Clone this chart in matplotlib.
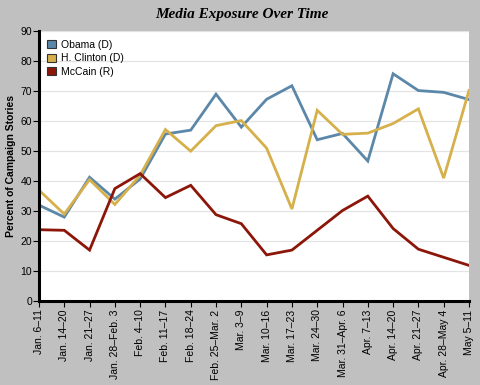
import matplotlib
matplotlib.use("Agg")
import matplotlib.pyplot as plt

weeks = ["Jan. 6\u201311", "Jan. 14\u201320", "Jan. 21\u201327", "Jan. 28\u2013Feb. 3",
         "Feb. 4\u201310", "Feb. 11\u201317", "Feb. 18\u201324", "Feb. 25\u2013Mar. 2",
         "Mar. 3\u20139", "Mar. 10\u201316", "Mar. 17\u201323", "Mar. 24\u201330",
         "Mar. 31\u2013Apr. 6", "Apr. 7\u201313", "Apr. 14\u201320", "Apr. 21\u201327",
         "Apr. 28\u2013May 4", "May 5\u201311"]
obama = [32, 28, 41.3, 34, 40.7, 55.7, 57, 69, 58, 67.3, 71.8, 53.8, 55.9, 46.7, 75.8, 70.2, 69.6, 67.2]
clinton = [37, 29, 40.5, 32.2, 42, 57.2, 50, 58.5, 60.2, 51, 30.7, 63.6, 55.6, 56, 59.2, 64.1, 41, 70.2]
mccain = [23.8, 23.6, 17, 37.5, 42.5, 34.5, 38.6, 28.8, 25.8, 15.4, 17, 23.6, 30.2, 35, 24.2, 17.3, 14.6, 11.9]

series = [("Obama (D)", obama, "#5b87a9"),
          ("H. Clinton (D)", clinton, "#d5b04b"),
          ("McCain (R)", mccain, "#8c1609")]

plt.rcParams['font.family'] = ['Liberation Sans', 'DejaVu Sans']
fig = plt.figure(figsize=(4.81, 3.85), dpi=100, facecolor="#c0c0c0")
ax = fig.add_axes([0.081, 0.218, 0.894, 0.701])
ax.set_facecolor("white")

x = list(range(len(weeks)))
for name, vals, col in series:
    ax.plot(x, vals, color=col, lw=2.0, label=name, solid_joinstyle="miter")

ax.set_xlim(0, len(weeks) - 1)
ax.set_ylim(0, 90)
ax.set_yticks(range(0, 91, 10))
ax.set_xticks(x)
ax.set_xticklabels(weeks, rotation=90, fontsize=7.5)
ax.tick_params(axis='y', labelsize=7.5, length=4, width=0.8, pad=1)
ax.tick_params(axis='x', length=4, width=0.8, pad=2)
ax.yaxis.grid(True, color="#e4e4e4", lw=0.9)
ax.set_axisbelow(True)
for s in ["top", "right"]:
    ax.spines[s].set_visible(False)
for s in ["left", "bottom"]:
    ax.spines[s].set_linewidth(2.2)
    ax.spines[s].set_color("black")

ax.set_ylabel("Percent of Campaign Stories", fontsize=7.5, fontweight="bold", labelpad=3)

from matplotlib.patches import Patch
handles = [Patch(facecolor=c, edgecolor="#333333", lw=0.8, label=n) for n, v, c in series]
leg = ax.legend(handles=handles, loc="upper left", frameon=False, fontsize=7.5,
                handlelength=0.8, handleheight=0.8, handletextpad=0.5,
                labelspacing=0.35, borderaxespad=0.4, bbox_to_anchor=(0.0, 1.0))

fig.text(0.503, 0.963, "Media Exposure Over Time", ha="center", va="center",
         fontsize=11, fontweight="bold", fontstyle="italic", family=["Liberation Serif", "DejaVu Serif"])

fig.savefig("out.png", dpi=100, facecolor=fig.get_facecolor())
